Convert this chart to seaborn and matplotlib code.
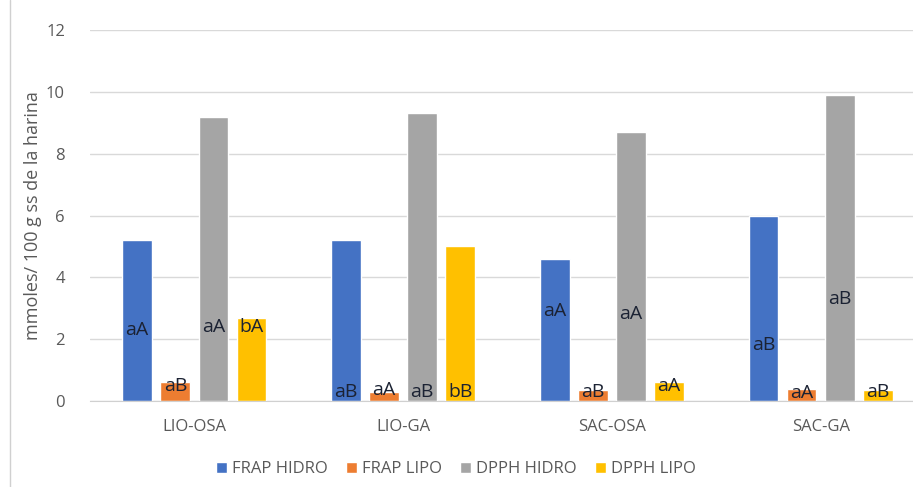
import matplotlib
matplotlib.use("Agg")
import matplotlib.pyplot as plt
import matplotlib.lines as mlines
import seaborn as sns
import pandas as pd

# Samples and antioxidant assays
muestras = ["LIO-OSA", "LIO-GA", "SAC-OSA", "SAC-GA"]
series = ["FRAP HIDRO", "FRAP LIPO", "DPPH HIDRO", "DPPH LIPO"]

frap_hidro = [5.2, 5.2, 4.6, 6.0]
frap_lipo = [0.6, 0.3, 0.35, 0.4]
dpph_hidro = [9.2, 9.3, 8.7, 9.9]
dpph_lipo = [2.7, 5.0, 0.6, 0.35]

# Significance letters and the height at which each one is written
letras = {
    "FRAP HIDRO": ["aA", "aB", "aA", "aB"],
    "FRAP LIPO": ["aB", "aA", "aB", "aA"],
    "DPPH HIDRO": ["aA", "aB", "aA", "aB"],
    "DPPH LIPO": ["bA", "bB", "aA", "aB"],
}
altura_letras = {
    "FRAP HIDRO": [2.3, 0.3, 2.9, 1.8],
    "FRAP LIPO": [0.5, 0.35, 0.3, 0.25],
    "DPPH HIDRO": [2.4, 0.3, 2.8, 3.3],
    "DPPH LIPO": [2.4, 0.3, 0.5, 0.3],
}

colores = ["#4472C4", "#ED7D31", "#A5A5A5", "#FFC000"]

valores = {"FRAP HIDRO": frap_hidro, "FRAP LIPO": frap_lipo,
           "DPPH HIDRO": dpph_hidro, "DPPH LIPO": dpph_lipo}
df = pd.DataFrame([
    {"muestra": m, "serie": s, "valor": valores[s][i]}
    for s in series for i, m in enumerate(muestras)
])

sns.set_style("white")
plt.rcParams["font.family"] = ["Open Sans", "DejaVu Sans"]

W, H = 913, 487
fig = plt.figure(figsize=(W / 100, H / 100), dpi=100)
# plot area runs past the right edge of the figure
x0, x1, y0, y1 = 90, 925, 401, 30
ax = fig.add_axes([x0 / W, 1 - y0 / H, (x1 - x0) / W, (y0 - y1) / H])

sns.barplot(data=df, x="muestra", y="valor", hue="serie", order=muestras,
            hue_order=series, palette=colores, width=0.73, gap=0.22,
            saturation=1, ax=ax, legend=True, errorbar=None)

# Letters inside the bars
for s, cont in zip(series, ax.containers):
    for i, bar in enumerate(cont):
        xc = bar.get_x() + bar.get_width() / 2
        ax.text(xc, altura_letras[s][i], letras[s][i], ha="center",
                va="center", fontsize=14, color="#1b2233")

ax.set_ylim(0, 12)
ax.set_yticks(range(0, 13, 2))
ax.set_xlim(-0.5, 3.5)
ax.yaxis.grid(True, color="#d9d9d9", linewidth=1)
ax.set_axisbelow(True)
for sp in ["top", "right", "left"]:
    ax.spines[sp].set_visible(False)
ax.spines["bottom"].set_color("#d0d0d0")
ax.tick_params(axis="both", length=0, colors="#595959", labelsize=12)
ax.tick_params(axis="y", pad=18)
ax.tick_params(axis="x", pad=13)
ax.set_xlabel("")
ax.set_ylabel("mmoles/ 100 g ss de la harina", fontsize=13, color="#595959",
              labelpad=3)

handles, labels = ax.get_legend_handles_labels()
ax.legend_.remove()
fig.legend(handles, labels, loc="center", bbox_to_anchor=(456 / W, 1 - 469 / H),
           ncol=4, frameon=False, fontsize=12, handlelength=0.65,
           handleheight=0.65, handletextpad=0.3, columnspacing=1.1,
           labelcolor="#595959")

# Left frame line
fig.add_artist(mlines.Line2D([10 / W, 10 / W], [0, 1], color="#d0d0d0",
                             linewidth=1, transform=fig.transFigure))

fig.savefig("out.png", dpi=100)
